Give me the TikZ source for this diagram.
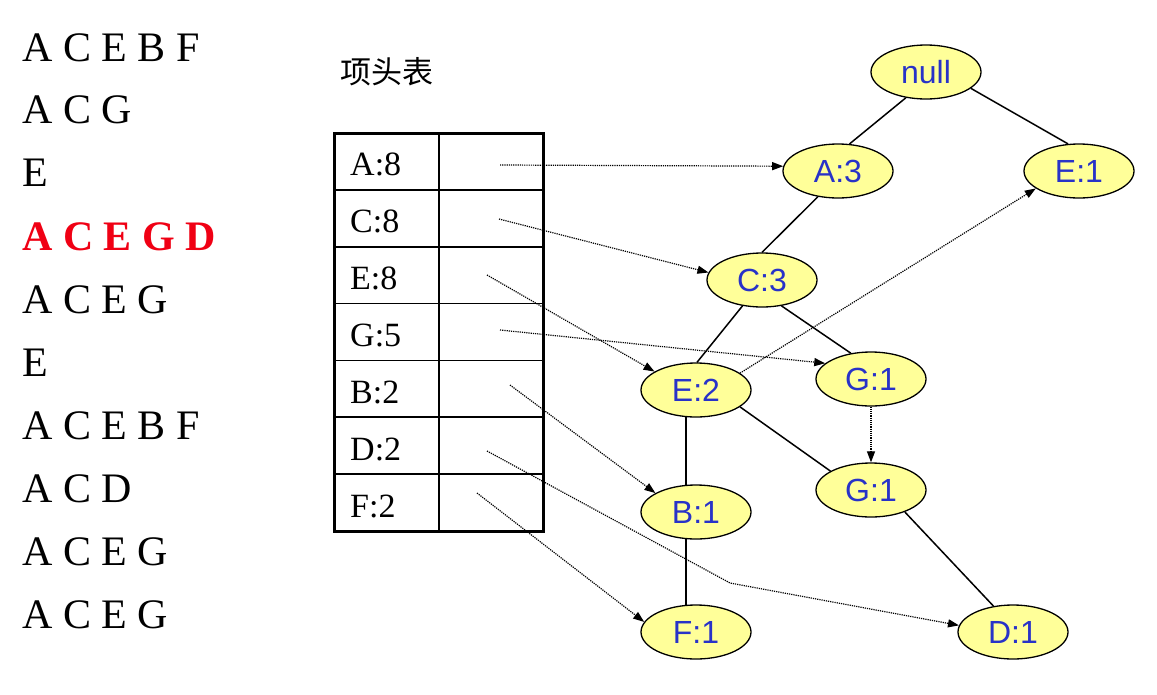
\documentclass[tikz,border=0pt]{standalone}
\usepackage{fontspec}
\setmainfont{Liberation Serif}
\newfontfamily\arialf{Liberation Sans}
\newfontfamily\cjk{Noto Sans CJK SC}
\usetikzlibrary{arrows.meta,backgrounds,shapes.geometric}
\definecolor{nodefill}{RGB}{255,255,153}
\definecolor{nodetext}{RGB}{40,50,200}
\definecolor{hlred}{RGB}{240,0,20}
\begin{document}
\begin{tikzpicture}[x=1pt,y=-1pt,
  fp/.style={ellipse, draw=black, line width=1.3pt, fill=nodefill,
    minimum width=110pt, minimum height=54pt, inner sep=0pt,
    font=\arialf\fontsize{32}{32}\selectfont, text=nodetext},
  trans/.style={anchor=base west, inner sep=0pt, font=\fontsize{42}{42}\selectfont},
  hdr/.style={anchor=base west, inner sep=0pt, font=\fontsize{34}{34}\selectfont},
  edge/.style={draw=black, line width=1.5pt},
  ptr/.style={draw=black, densely dotted, line width=1.2pt, -{Triangle[length=11pt,width=8pt]}},
  tabouter/.style={draw=black, line width=3pt},
  tabinner/.style={draw=black, line width=1.8pt}]
\useasboundingbox (0,0) rectangle (1157,694);

% transactions
\node[trans] (t1) at (22,61) {A C E B F};
\node[trans] (t2) at (22,123) {A C G};
\node[trans] (t3) at (22,186) {E};
\node[trans, text=hlred, font=\bfseries\fontsize{42}{42}\selectfont] (t4) at (22,250) {A C E G D};
\node[trans] (t5) at (22,313) {A C E G};
\node[trans] (t6) at (22,376) {E};
\node[trans] (t7) at (22,439) {A C E B F};
\node[trans] (t8) at (22,502) {A C D};
\node[trans] (t9) at (22,565) {A C E G};
\node[trans] (t10) at (22,628) {A C E G};

% header table
\node[inner sep=0pt, font=\cjk\fontsize{31}{31}\selectfont] (title) at (387,72) {项头表};
\foreach \i in {1,...,6} {
  \draw[tabinner] (334,133+56.857*\i) -- (543,133+56.857*\i);
}
\draw[tabinner] (439,133) -- (439,531);
\draw[tabouter] (334,133) rectangle (543,531);
\node[hdr] (hA) at (350,175) {A:8};
\node[hdr] (hC) at (350,232) {C:8};
\node[hdr] (hE) at (350,289) {E:8};
\node[hdr] (hG) at (350,346) {G:5};
\node[hdr] (hB) at (350,403) {B:2};
\node[hdr] (hD) at (350,460) {D:2};
\node[hdr] (hF) at (350,517) {F:2};
\coordinate (pA) at (500,165);
\coordinate (pC) at (499,219);
\coordinate (pE) at (487,275);
\coordinate (pG) at (500,330);
\coordinate (pB) at (510,385);
\coordinate (pD) at (487,451);
\coordinate (pF) at (477,493);
\coordinate (dbend) at (730,583);

% tree nodes
\node[fp] (null) at (926,72) {null};
\node[fp] (A3) at (838,171) {A:3};
\node[fp] (E1) at (1079,171) {E:1};
\node[fp] (C3) at (762,280) {C:3};
\node[fp] (E2) at (696,390) {E:2};
\node[fp] (G1a) at (871,379) {G:1};
\node[fp] (G1b) at (871,490) {G:1};
\node[fp] (B1) at (696,512) {B:1};
\node[fp] (F1) at (696,632) {F:1};
\node[fp] (D1) at (1013,632) {D:1};

% tree edges
\draw[edge] (null.232) -- (A3.67);
\draw[edge] (null.-20) -- (E1.112);
\draw[edge] (A3.232) -- (C3.90);
\draw[edge] (C3.233) -- (E2.88);
\draw[edge] (C3.307) -- (G1a.128);
\draw[edge] (E2.-21) -- (G1b.155);
\draw[edge] (G1b.-33) -- (D1.127);
\begin{pgfonlayer}{background}
\fill[white] (0,0) rectangle (1157,694);
\draw[edge] ([xshift=-10pt]E2.center) -- ([xshift=-10pt]B1.center);
\draw[edge] ([xshift=-10pt]B1.center) -- ([xshift=-10pt]F1.center);
\end{pgfonlayer}

% node links
\draw[ptr] (pA) -- (A3.175);
\draw[ptr] (pC) -- (C3.172);
\draw[ptr] (pE) -- (E2.156);
\draw[ptr] (pG) -- (G1a.161);
\draw[ptr] (pB) -- (B1.155);
\draw[ptr] (pD) -- (dbend) -- (D1.173);
\draw[ptr] (pF) -- (F1.169);
\draw[ptr] (E2.21) -- (E1.202);
\draw[ptr] (G1a.south) -- (G1b.north);
\end{tikzpicture}
\end{document}
